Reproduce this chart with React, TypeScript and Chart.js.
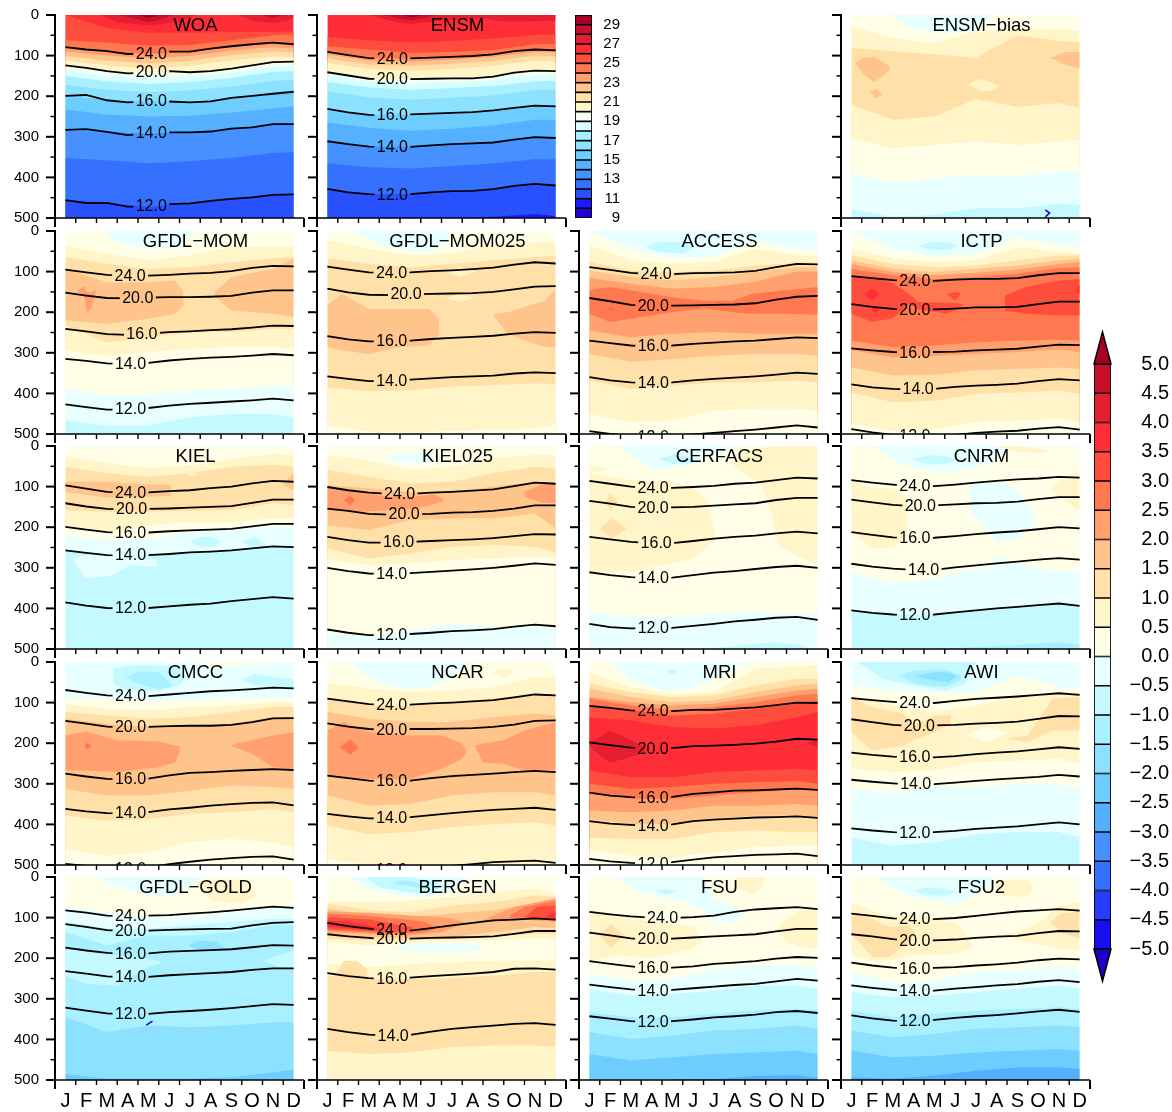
import React, { useEffect, useRef } from "react";
import { Chart, registerables } from "chart.js";

Chart.register(...registerables);

const FONT = "'Liberation Sans', Arial, sans-serif";
const MONTHS = ["J", "F", "M", "A", "M", "J", "J", "A", "S", "O", "N", "D"];
const MONTH_POS = [0.5, 1.5, 2.5, 3.5, 4.5, 5.5, 6.5, 7.5, 8.5, 9.5, 10.5, 11.5];
const KNOTS = [0.5, 2.5, 4.5, 6.5, 8.5, 10.5, 11.5];
const LEVELS = ["24.0", "20.0", "16.0", "14.0", "12.0"];
const TITLE_POS = 6.77;

const TEMP_COLORS: Record<number, string> = {
  9: "#2000d0", 10: "#1a1aff", 11: "#2850ff", 12: "#3670ff", 13: "#4690ff", 14: "#55b0ff", 15: "#6ecdff",
  16: "#8ce1ff", 17: "#a8f0ff", 18: "#d8ffff", 19: "#f4fff2", 20: "#fff5c8", 21: "#ffe0a8", 22: "#ffc38c",
  23: "#ffa06e", 24: "#ff7850", 25: "#ff4d3d", 26: "#ff2d37", 27: "#e61e32", 28: "#c8102e", 29: "#a80025",
};
const BIAS_LEVELS = [-5.5, -5, -4.5, -4, -3.5, -3, -2.5, -2, -1.5, -1, -0.5, 0, 0.5, 1, 1.5, 2, 2.5, 3, 3.5, 4, 4.5, 5];
const BIAS_HEX = ["#2000c8", "#190fee", "#233cff", "#3670ff", "#4690ff", "#55afff", "#6ecdff", "#8ce1ff", "#a8f0ff", "#c4faff", "#e8ffff",
  "#ffffe8", "#fff5c8", "#ffe0a8", "#ffc38c", "#ffa06e", "#ff7850", "#ff4d3d", "#ff2d37", "#e61e32", "#c8102e", "#a80025"];
const TEMP_BAR = [9, 10, 11, 12, 13, 14, 15, 16, 17, 18, 19, 20, 21, 22, 23, 24, 25, 26, 27, 28, 29];
const TEMP_TICKS = [9, 11, 13, 15, 17, 19, 21, 23, 25, 27, 29];
const BIAS_TICKS = [-5, -4.5, -4, -3.5, -3, -2.5, -2, -1.5, -1, -0.5, 0, 0.5, 1, 1.5, 2, 2.5, 3, 3.5, 4, 4.5, 5];

const WOA_LINES = [
  [79, 85, 89, 96, 96, 90, 90, 83, 77, 72, 68, 72],
  [124, 130, 138, 144, 142, 138, 141, 138, 132, 124, 116, 115],
  [199, 197, 210, 215, 213, 213, 215, 213, 204, 199, 194, 189],
  [283, 281, 288, 296, 292, 289, 289, 287, 280, 277, 269, 269],
  [456, 463, 463, 472, 472, 466, 464, 458, 453, 449, 443, 442],
];
const WOA_LABELX = [4.64, 4.64, 4.64, 4.64, 4.64];
const WOA_BANDS = [
  [26, 0, 0, 0, 0, 0, 0, 0],
  [25, 0, 32, 44, 44, 42, 42, 40],
  [24, 62, 68, 76, 74, 62, 50, 48],
  [23, 79, 89, 96, 90, 77, 68, 72],
  [22, 90, 100, 107, 101, 88, 79, 82],
  [21, 101, 112, 119, 112, 99, 90, 92],
  [20, 112, 124, 132, 125, 112, 102, 104],
  [19, 124, 138, 142, 141, 132, 116, 115],
  [18, 136, 150, 155, 152, 143, 128, 125],
  [17, 150, 163, 170, 165, 155, 140, 138],
  [16, 172, 184, 190, 186, 176, 162, 160],
  [15, 199, 210, 213, 215, 204, 194, 189],
  [14, 233, 245, 250, 248, 240, 230, 225],
  [13, 283, 288, 292, 289, 280, 269, 269],
  [12, 352, 358, 365, 360, 352, 340, 338],
  [11, 456, 463, 472, 464, 453, 443, 442],
];
const WOA_BLOBS: any[] = [
  [27, [[2.2, 0, 0], [3, 0, 18], [4.5, 0, 26], [6, 0, 16], [6.8, 0, 0]]],
  [27, [[8.8, 0, 0], [9.5, 0, 14], [10.5, 0, 20], [11.2, 0, 14], [11.5, 0, 5]]],
  [28, [[3.1, 0, 0], [4, 0, 12], [4.5, 0, 18], [5, 0, 12], [5.7, 0, 0]]],
  [28, [[10, 0, 0], [10.5, 0, 8], [11, 0, 0]]],
  [29, [[4, 0, 0], [4.5, 0, 8], [5, 0, 0]]],
];

const ENSM_LINES = [
  [91, 99, 106, 108, 107, 105, 103, 101, 97, 89, 85, 87],
  [141, 149, 157, 158, 158, 157, 156, 156, 152, 142, 137, 138],
  [231, 240, 246, 247, 245, 243, 241, 239, 235, 229, 223, 225],
  [311, 318, 324, 325, 325, 321, 318, 316, 314, 307, 301, 303],
  [428, 437, 441, 443, 441, 437, 434, 433, 429, 421, 416, 420],
];
const ENSM_LABELX = [3.63, 3.63, 3.63, 3.63, 3.63];
const ENSM_BANDS = [
  [26, 0, 0, 0, 0, 0, 0, 0],
  [25, 54, 62, 67, 64, 58, 49, 48],
  [24, 77, 85, 93, 91, 86, 72, 70],
  [23, 91, 106, 107, 103, 97, 85, 87],
  [22, 97, 112, 115, 110, 103, 91, 92],
  [21, 107, 122, 125, 120, 113, 100, 102],
  [20, 118, 133, 138, 133, 125, 113, 115],
  [19, 141, 157, 158, 156, 152, 137, 138],
  [18, 148, 163, 168, 165, 160, 148, 147],
  [17, 165, 178, 184, 180, 175, 163, 162],
  [16, 188, 203, 208, 204, 198, 185, 185],
  [15, 231, 246, 245, 241, 235, 223, 225],
  [14, 265, 278, 285, 280, 272, 258, 258],
  [13, 311, 324, 325, 318, 314, 301, 303],
  [12, 365, 375, 378, 372, 366, 355, 355],
  [11, 428, 441, 441, 434, 429, 416, 420],
  [10, 500, 500, 500, 500, 497, 490, 495],
];
const ENSM_BLOBS: any[] = [
  [27, [[2.5, 0, 0], [3.5, 0, 14], [4.5, 0, 22], [6, 0, 14], [8, 0, 8], [9, 0, 16], [10, 0, 16], [11.5, 0, 14]]],
  [28, [[3.2, 0, 0], [4.5, 0, 14], [5.8, 0, 0]]],
  [29, [[4.1, 0, 0], [4.6, 0, 6], [5.1, 0, 0]]],
];

const BIAS_BANDS = [
  [0, 0, 0, 0, 0, 0, 0, 0],
  [0.5, 27, 56, 70, 40, 35, 34, 40],
  [1, 81, 89, 97, 105, 50, 64, 67],
  [0.5, 221, 258, 250, 207, 226, 217, 229],
  [0, 303, 328, 320, 311, 320, 311, 307],
  [-0.5, 390, 413, 402, 394, 398, 385, 385],
  [-1, 479, 497, 492, 476, 476, 464, 468],
];
const BIAS_BLOBS: any[] = [
  [-0.5, [[2.4, 0, 0], [3.5, 0, 35], [5, 0, 44], [6.3, 0, 40], [7, 0, 15], [7.4, 0, 0]]],
  [1.5, [[0.66, 118, 118], [1.1, 105, 146], [1.6, 103, 166], [2.2, 122, 143], [2.4, 132, 132]]],
  [1.5, [[10.1, 105, 105], [10.8, 91, 122], [11.5, 91, 132]]],
  [1.5, [[1.38, 190, 190], [1.7, 182, 205], [2, 195, 195]]],
  [0.5, [[6.1, 172, 172], [6.7, 157, 186], [7.2, 165, 188], [7.64, 175, 175]]],
];
const BIAS_MARKS = [[[9.85, 480], [10.05, 488], [9.85, 497]]];

const GFDLMOM_LINES = [
  [95, 102, 108, 110, 110, 108, 105, 103, 99, 91, 86, 87],
  [152, 159, 165, 166, 164, 163, 163, 162, 160, 152, 146, 146],
  [241, 247, 254, 256, 253, 249, 247, 244, 242, 238, 233, 234],
  [315, 320, 326, 328, 325, 319, 315, 312, 310, 307, 303, 306],
  [427, 434, 440, 440, 436, 430, 426, 423, 420, 417, 413, 417],
];
const GFDLMOM_LABELX = [3.62, 3.99, 4.19, 3.64, 3.64];
const GFDLMOM_BANDS = [
  [0, 0, 0, 0, 0, 0, 0, 0],
  [0.5, 35, 56, 72, 60, 40, 38, 38],
  [1, 64, 81, 93, 89, 77, 68, 64],
  [0.5, 233, 274, 262, 249, 249, 241, 241],
  [0, 294, 307, 298, 290, 286, 286, 290],
  [-0.5, 389, 405, 401, 393, 389, 381, 385],
  [-1, 467, 479, 479, 459, 451, 451, 459],
];
const GFDLMOM_BLOBS: any[] = [
  [-0.5, [[2.4, 0, 0], [3, 0, 28], [4.5, 0, 45], [6, 0, 40], [6.7, 0, 0]]],
  [1.5, [[0.5, 93, 220], [2.5, 126, 229], [4.5, 126, 216], [5.8, 122, 204], [6.2, 150, 183]]],
  [1.5, [[7.7, 150, 160], [8.5, 113, 196], [10.5, 93, 204], [11.5, 68, 212]]],
  [2, [[1.05, 148, 148], [1.4, 136, 158], [1.55, 150, 200], [1.75, 150, 190], [2, 145, 145]]],
];

const MOM025_LINES = [
  [88, 95, 102, 103, 102, 99, 97, 94, 90, 83, 77, 80],
  [142, 151, 157, 158, 156, 155, 154, 153, 150, 144, 137, 136],
  [259, 267, 272, 272, 270, 266, 263, 261, 258, 253, 249, 251],
  [358, 364, 370, 370, 366, 363, 360, 358, 356, 351, 348, 350],
];
const MOM025_LABELX = [3.59, 4.29, 3.6, 3.6];
const MOM025_BANDS = [
  [0, 0, 0, 0, 0, 0, 0, 0],
  [0.5, 23, 44, 60, 56, 31, 27, 27],
  [1, 68, 81, 89, 81, 72, 64, 60],
  [0.5, 385, 395, 392, 383, 380, 375, 378],
  [0, 479, 494, 496, 492, 489, 486, 478],
];
const MOM025_BLOBS: any[] = [
  [-0.5, [[1.8, 0, 0], [3, 0, 32], [4.5, 0, 50], [5.5, 0, 50], [6.2, 0, 30], [6.5, 0, 0]]],
  [0.5, [[6.2, 100, 100], [6.9, 89, 113], [7.65, 100, 100]]],
  [0.5, [[6.2, 165, 165], [6.9, 155, 175], [7.6, 165, 165]]],
  [1.5, [[0.5, 183, 286], [1.2, 155, 294], [2.5, 192, 303], [4, 192, 286], [5.4, 192, 282], [5.9, 216, 253]]],
  [1.5, [[8.5, 204, 208], [9.2, 200, 253], [10, 187, 270], [11, 171, 286], [11.5, 142, 286]]],
];

const KIEL_LINES = [
  [97, 105, 113, 115, 114, 111, 109, 104, 100, 92, 86, 88],
  [141, 149, 155, 156, 155, 154, 152, 150, 148, 140, 132, 132],
  [199, 206, 212, 214, 213, 210, 208, 206, 204, 198, 192, 192],
  [257, 263, 269, 270, 269, 266, 262, 260, 257, 252, 247, 249],
  [385, 393, 399, 400, 399, 395, 391, 388, 382, 377, 372, 376],
];
const KIEL_LABELX = [3.64, 3.69, 3.64, 3.64, 3.64];
const KIEL_BANDS = [
  [0, 0, 0, 0, 0, 0, 0, 0],
  [0.5, 25, 42, 55, 48, 32, 20, 22],
  [1, 51, 67, 76, 67, 51, 47, 51],
  [0.5, 158, 162, 162, 160, 158, 141, 146],
  [0, 199, 215, 195, 187, 187, 178, 178],
  [-0.5, 220, 232, 228, 211, 207, 199, 199],
  [-1, 257, 270, 268, 262, 257, 247, 249],
];
const KIEL_BLOBS: any[] = [
  [1.5, [[0.5, 88, 113], [2.5, 88, 127], [4.5, 95, 125], [5.6, 96, 123]]],
  [1.5, [[11, 92, 95], [11.5, 67, 109]]],
  [0.5, [[6.3, 68, 68], [6.6, 65, 75], [6.9, 70, 70]]],
  [-0.5, [[0.9, 277, 285], [1.5, 269, 326], [2.7, 265, 320], [3.6, 273, 294], [4.9, 281, 298]]],
  [-1, [[6.5, 236, 236], [7, 224, 248], [7.6, 224, 248], [8, 236, 236]]],
  [-1, [[9, 236, 236], [9.6, 224, 252], [10.3, 248, 248]]],
];

const KIEL025_LINES = [
  [101, 109, 115, 118, 118, 115, 113, 110, 107, 99, 90, 93],
  [154, 160, 167, 169, 168, 167, 164, 163, 160, 154, 146, 146],
  [224, 232, 238, 238, 236, 234, 232, 230, 227, 222, 217, 218],
  [300, 308, 314, 315, 313, 310, 307, 304, 300, 295, 289, 293],
  [452, 460, 466, 466, 463, 460, 456, 454, 451, 445, 440, 444],
];
const KIEL025_LABELX = [3.98, 4.2, 3.93, 3.6, 3.6];
const KIEL025_BANDS = [
  [0, 0, 0, 0, 0, 0, 0, 0],
  [0.5, 22, 35, 59, 51, 30, 22, 22],
  [1, 59, 76, 92, 88, 67, 51, 55],
  [1.5, 96, 104, 113, 113, 100, 88, 90],
  [1, 195, 207, 183, 178, 178, 166, 203],
  [0.5, 252, 277, 265, 248, 244, 248, 261],
  [0, 281, 293, 289, 281, 277, 273, 277],
  [-0.5, 462, 470, 454, 437, 446, 446, 450],
];
const KIEL025_BLOBS: any[] = [
  [-0.5, [[3.3, 30, 30], [4, 18, 40], [5.2, 18, 42], [6, 30, 30]]],
  [2, [[0.5, 100, 158], [2, 113, 162], [3.5, 125, 158], [4.7, 125, 154], [5.6, 119, 144], [6.1, 130, 135]]],
  [2, [[10, 113, 125], [10.8, 95, 139], [11.5, 92, 141]]],
  [2.5, [[1.3, 133, 133], [1.6, 123, 147], [1.85, 133, 133]]],
];

const ACCESS_LINES = [
  [89, 96, 103, 106, 106, 104, 103, 102, 98, 89, 81, 82],
  [165, 173, 182, 185, 184, 183, 182, 181, 178, 169, 162, 160],
  [270, 276, 282, 284, 282, 278, 275, 272, 270, 266, 262, 264],
  [360, 368, 373, 374, 373, 368, 364, 361, 358, 354, 349, 352],
  [493, 500, 505, 507, 505, 501, 497, 493, 489, 484, 479, 484],
];
const ACCESS_LABELX = [3.72, 3.58, 3.58, 3.58, 3.58];
const ACCESS_BANDS = [
  [-0.5, 0, 0, 0, 0, 0, 0, 0],
  [0, 0, 45, 68, 62, 25, 45, 45],
  [0.5, 35, 72, 80, 77, 43, 60, 60],
  [1, 76, 97, 101, 97, 85, 78, 78],
  [1.5, 97, 113, 122, 113, 101, 89, 89],
  [2, 116, 130, 142, 138, 125, 100, 100],
  [1.5, 245, 262, 253, 249, 253, 253, 253],
  [1, 303, 322, 315, 307, 303, 303, 307],
  [0.5, 368, 389, 381, 373, 373, 368, 373],
  [0, 451, 471, 467, 442, 438, 438, 442],
];
const ACCESS_BLOBS: any[] = [
  [-1, [[3.2, 40, 40], [3.8, 27, 52], [5, 27, 56], [5.6, 40, 40]]],
  [2.5, [[0.5, 146, 204], [1.5, 138, 224], [3, 150, 212], [4.5, 163, 200], [6, 172, 190], [7.4, 172, 200], [8.3, 155, 204], [10, 146, 204], [11.5, 138, 206]]],
  [3, [[1.4, 192, 192], [1.5, 190, 194], [1.7, 192, 192]]],
];

const ICTP_LINES = [
  [111, 116, 121, 123, 123, 120, 118, 118, 116, 109, 104, 104],
  [180, 187, 192, 195, 193, 191, 188, 188, 187, 180, 174, 174],
  [289, 294, 298, 300, 298, 297, 294, 292, 290, 285, 280, 281],
  [378, 385, 389, 391, 389, 384, 381, 379, 376, 370, 365, 368],
  [488, 496, 502, 506, 505, 502, 497, 494, 492, 487, 483, 489],
];
const ICTP_LABELX = [3.56, 3.56, 3.56, 3.72, 3.56];
const ICTP_BANDS = [
  [-0.5, 0, 0, 0, 0, 0, 0, 0],
  [0, 0, 44, 64, 56, 15, 36, 40],
  [0.5, 44, 68, 76, 72, 40, 52, 56],
  [1, 60, 81, 89, 85, 72, 60, 60],
  [1.5, 72, 93, 101, 93, 85, 72, 68],
  [2, 81, 101, 109, 103, 95, 81, 77],
  [2.5, 93, 109, 119, 113, 105, 91, 89],
  [2, 270, 286, 282, 274, 270, 267, 270],
  [1.5, 294, 311, 308, 303, 298, 292, 298],
  [1, 336, 356, 354, 343, 340, 336, 340],
  [0.5, 398, 422, 418, 401, 398, 393, 401],
  [0, 475, 492, 488, 471, 467, 463, 471],
];
const ICTP_BLOBS: any[] = [
  [-1, [[3.7, 37, 37], [4.3, 27, 47], [5.2, 27, 47], [5.6, 37, 37]]],
  [3, [[0.5, 113, 204], [1.5, 113, 224], [2.5, 128, 215], [3.3, 155, 179], [3.7, 175, 192], [5.1, 177, 204], [5.9, 179, 183]]],
  [3, [[7.9, 159, 196], [8.9, 138, 204], [10.5, 122, 208], [11.5, 118, 208]]],
  [3, [[5.1, 155, 155], [5.5, 150, 171], [5.8, 152, 152]]],
  [3.5, [[1.1, 155, 155], [1.5, 142, 171], [1.85, 155, 155]]],
  [3.5, [[1.45, 192, 192], [1.65, 186, 204], [1.85, 192, 192]]],
  [3.5, [[11.3, 146, 146], [11.5, 134, 155]]],
];

const CERFACS_LINES = [
  [86, 93, 100, 104, 103, 101, 98, 93, 90, 84, 78, 80],
  [135, 142, 150, 152, 151, 150, 147, 144, 141, 133, 128, 128],
  [224, 230, 236, 239, 239, 234, 228, 224, 221, 215, 211, 215],
  [311, 318, 323, 326, 324, 318, 312, 308, 303, 298, 295, 300],
  [438, 446, 449, 449, 448, 443, 438, 432, 428, 423, 421, 428],
];
const CERFACS_LABELX = [3.57, 3.57, 3.72, 3.58, 3.58];
const CERFACS_BANDS = [
  [0, 0, 0, 0, 0, 0, 0, 0],
  [-0.5, 409, 421, 421, 413, 409, 413, 413],
];
const CERFACS_BLOBS: any[] = [
  [-0.5, [[2, 0, 5], [3.5, 0, 55], [5, 0, 52], [6.5, 0, 25], [7.5, 0, 0]]],
  [-1, [[3.8, 32, 32], [4.5, 22, 43], [5.3, 25, 43], [5.6, 32, 32]]],
  [0.5, [[7.3, 40, 40], [8, 14, 70], [8.8, 5, 95], [9.3, 0, 170], [9.6, 0, 245], [10.5, 0, 270], [11.5, 0, 294]]],
  [0.5, [[0.5, 67, 310], [2.5, 84, 310], [4.5, 88, 289], [5.5, 104, 277], [6.2, 137, 248], [6.5, 203, 236]]],
  [0.5, [[0.5, 47, 67], [1.5, 58, 58]]],
  [1, [[1.3, 137, 137], [1.5, 117, 160], [1.85, 137, 137]]],
  [1, [[1, 203, 203], [1.6, 178, 228], [2.3, 203, 203]]],
  [-1, [[6, 500, 500], [9.5, 483, 500], [11, 493, 500]]],
];

const CNRM_LINES = [
  [84, 90, 95, 99, 99, 95, 90, 86, 82, 80, 76, 78],
  [132, 139, 145, 148, 146, 144, 141, 140, 137, 131, 126, 126],
  [212, 219, 225, 227, 226, 222, 217, 213, 210, 205, 200, 203],
  [290, 297, 302, 305, 305, 299, 294, 289, 285, 280, 276, 280],
  [405, 411, 415, 417, 415, 410, 405, 400, 396, 392, 388, 394],
];
const CNRM_LABELX = [3.56, 3.82, 3.56, 3.98, 3.56];
const CNRM_BANDS = [
  [0, 0, 0, 0, 0, 0, 0, 0],
  [-0.5, 310, 339, 326, 302, 289, 310, 310],
  [-1, 405, 415, 415, 405, 396, 388, 394],
  [-1.5, 500, 500, 500, 495, 490, 483, 490],
];
const CNRM_BLOBS: any[] = [
  [-0.5, [[1.6, 0, 0], [3, 0, 47], [4.5, 0, 62], [5.5, 0, 65], [6.5, 0, 55], [7.5, 0, 25], [8.5, 0, 0]]],
  [-0.5, [[6.2, 96, 162], [6.9, 88, 195], [7.5, 88, 236], [8, 92, 236], [8.6, 113, 228], [9.4, 178, 182]]],
  [-1, [[3.4, 33, 33], [4.2, 22, 45], [5, 25, 45], [5.6, 33, 33]]],
  [0.5, [[7.7, 0, 3], [8.6, 0, 15], [9.6, 8, 17], [10.1, 14, 14]]],
  [0.5, [[10.1, 104, 104], [10.7, 80, 133], [11.5, 63, 160]]],
  [0.5, [[0.5, 84, 211], [1.5, 104, 252], [2.5, 104, 252], [3.2, 129, 220]]],
  [-0.5, [[7.2, 281, 281], [7.6, 269, 294], [8, 281, 281]]],
];

const CMCC_LINES = [
  [69, 76, 82, 84, 84, 80, 76, 72, 70, 67, 63, 65],
  [145, 152, 159, 161, 160, 158, 157, 157, 155, 148, 139, 138],
  [275, 282, 288, 289, 287, 279, 273, 271, 268, 266, 264, 266],
  [362, 368, 372, 373, 370, 363, 359, 354, 350, 347, 346, 353],
  [497, 502, 510, 510, 506, 498, 492, 487, 483, 480, 479, 487],
];
const CMCC_LABELX = [3.64, 3.64, 3.64, 3.64, 3.64];
const CMCC_BANDS = [
  [-0.5, 0, 0, 0, 0, 0, 0, 0],
  [0, 86, 90, 95, 95, 86, 90, 90],
  [0.5, 103, 115, 119, 111, 107, 99, 99],
  [1, 123, 132, 140, 136, 123, 111, 111],
  [1.5, 140, 152, 160, 156, 152, 136, 136],
  [1, 313, 329, 329, 317, 304, 308, 313],
  [0.5, 378, 391, 387, 374, 370, 362, 370],
  [0, 461, 477, 469, 444, 436, 444, 456],
];
const CMCC_BLOBS: any[] = [
  [-1, [[2.8, 16, 53], [3.5, 8, 70], [5, 8, 70], [6, 16, 58], [6.3, 37, 37]]],
  [-1.5, [[3.4, 37, 37], [4, 23, 53], [5, 25, 67], [5.6, 53, 62]]],
  [-1, [[9, 43, 43], [9.6, 29, 58], [11.5, 43, 66]]],
  [0, [[7, 0, 0], [7.6, 0, 16], [8, 0, 12], [9, 0, 8], [11.5, 0, 0]]],
  [2, [[0.5, 181, 267], [1.5, 171, 267], [3, 193, 271], [5, 196, 259], [5.8, 206, 247], [6, 206, 222]]],
  [2, [[8.5, 204, 206], [9.5, 193, 226], [10.5, 181, 259], [11.5, 173, 263]]],
  [2.5, [[1.4, 207, 207], [1.55, 199, 215], [1.75, 207, 207]]],
];

const NCAR_LINES = [
  [90, 97, 104, 105, 105, 102, 100, 97, 94, 87, 80, 82],
  [151, 159, 165, 167, 165, 165, 164, 163, 160, 154, 145, 144],
  [280, 286, 292, 294, 292, 286, 281, 278, 275, 271, 268, 271],
  [374, 380, 385, 385, 382, 377, 372, 368, 364, 362, 359, 364],
  [502, 510, 514, 514, 510, 506, 502, 498, 493, 491, 489, 495],
];
const NCAR_LABELX = [3.6, 3.6, 3.6, 3.6, 3.6];
const NCAR_BANDS = [
  [0, 0, 0, 0, 0, 0, 0, 0],
  [0.5, 53, 66, 74, 70, 62, 37, 37],
  [1, 90, 107, 107, 99, 90, 78, 82],
  [1.5, 123, 140, 148, 148, 136, 127, 132],
  [1, 329, 354, 350, 329, 321, 321, 329],
  [0.5, 403, 424, 419, 407, 399, 395, 403],
  [0, 485, 500, 500, 500, 500, 500, 490],
];
const NCAR_BLOBS: any[] = [
  [-0.5, [[1.5, 0, 0], [2.7, 0, 45], [4, 0, 66], [5.5, 0, 62], [6.5, 0, 33], [7.5, 0, 0]]],
  [0.5, [[8.4, 25, 25], [9, 16, 37], [9.6, 25, 25]]],
  [2, [[0.5, 169, 280], [1.3, 148, 284], [2.5, 173, 288], [4.5, 181, 288], [6, 181, 263], [7, 201, 238], [7.2, 222, 222]]],
  [2, [[7.6, 206, 206], [8, 201, 247], [9, 193, 251], [10, 169, 267], [11.5, 148, 267]]],
  [2.5, [[1.1, 210, 210], [1.6, 191, 229], [2, 210, 210]]],
];

const MRI_LINES = [
  [108, 113, 119, 121, 121, 118, 118, 115, 112, 106, 100, 101],
  [198, 205, 211, 214, 212, 207, 206, 204, 201, 196, 189, 191],
  [322, 329, 333, 335, 332, 325, 321, 317, 316, 314, 312, 315],
  [392, 398, 401, 404, 400, 392, 388, 386, 383, 382, 380, 384],
  [485, 491, 495, 497, 493, 487, 481, 478, 475, 474, 472, 478],
];
const MRI_LABELX = [3.57, 3.57, 3.57, 3.57, 3.57];
const MRI_BANDS = [
  [0, 0, 0, 0, 0, 0, 0, 0],
  [0.5, 25, 62, 78, 74, 16, 12, 8],
  [1, 53, 74, 86, 82, 58, 41, 41],
  [1.5, 66, 86, 99, 95, 74, 58, 53],
  [2, 86, 99, 107, 103, 86, 70, 66],
  [2.5, 90, 107, 119, 111, 99, 82, 78],
  [3, 107, 119, 132, 127, 115, 103, 95],
  [3.5, 136, 144, 160, 164, 156, 136, 123],
  [3, 267, 284, 284, 271, 267, 263, 267],
  [2.5, 300, 312, 308, 300, 296, 294, 300],
  [2, 321, 337, 337, 329, 321, 312, 317],
  [1.5, 366, 370, 366, 354, 354, 350, 354],
  [1, 387, 399, 399, 387, 378, 378, 387],
  [0.5, 432, 436, 436, 419, 415, 419, 419],
  [0, 461, 477, 481, 469, 456, 452, 452],
];
const MRI_BLOBS: any[] = [
  [-0.5, [[1.5, 0, 0], [2.5, 0, 45], [4, 0, 70], [5.5, 0, 66], [6.7, 0, 37], [7.5, 0, 12], [8.3, 0, 0]]],
  [-1, [[4.2, 22, 22], [4.5, 18, 30], [4.8, 22, 22]]],
  [4, [[0.5, 199, 206], [1, 185, 230], [1.5, 169, 248], [2.5, 193, 234], [3.2, 210, 222]]],
  [4, [[11, 201, 201], [11.3, 193, 206], [11.5, 189, 210]]],
];

const AWI_LINES = [
  [89, 94, 98, 101, 101, 96, 91, 88, 85, 81, 77, 81],
  [141, 148, 155, 158, 156, 155, 152, 150, 147, 140, 133, 134],
  [223, 229, 233, 235, 235, 232, 227, 223, 220, 215, 210, 214],
  [290, 295, 299, 302, 301, 297, 293, 289, 286, 283, 278, 282],
  [410, 415, 419, 421, 419, 416, 411, 408, 405, 400, 395, 400],
];
const AWI_LABELX = [3.56, 3.77, 3.56, 3.6, 3.56];
const AWI_BANDS = [
  [-0.5, 0, 0, 0, 0, 0, 0, 0],
  [0, 58, 70, 74, 74, 33, 62, 62],
  [0.5, 82, 107, 123, 107, 86, 78, 74],
  [0, 263, 271, 267, 247, 243, 238, 251],
  [-0.5, 313, 321, 308, 308, 300, 300, 313],
  [-1, 432, 452, 444, 424, 419, 419, 432],
];
const AWI_BLOBS: any[] = [
  [-1, [[0.8, 0, 0], [2, 0, 41], [3, 0, 53], [5, 0, 70], [6, 0, 53], [6.5, 0, 0]]],
  [-1.5, [[2.8, 33, 33], [3.5, 21, 53], [5, 18, 62], [5.8, 33, 45]]],
  [-2, [[3.6, 35, 35], [4.4, 25, 45], [5.2, 25, 49], [5.6, 35, 35]]],
  [1, [[0.5, 86, 173], [1.5, 111, 218], [3, 127, 206], [3.5, 156, 193], [4.5, 132, 173], [5.3, 132, 152]]],
  [1, [[8, 189, 189], [9, 181, 197], [10.2, 90, 169], [11.5, 86, 169]]],
  [0, [[6, 181, 181], [7, 160, 197], [8, 173, 177]]],
];

const GOLD_LINES = [
  [82, 88, 95, 96, 95, 94, 90, 87, 83, 78, 73, 76],
  [116, 123, 131, 133, 132, 130, 129, 128, 127, 119, 113, 111],
  [174, 181, 187, 189, 188, 184, 182, 180, 178, 173, 168, 169],
  [232, 238, 245, 248, 246, 242, 239, 237, 234, 229, 225, 225],
  [322, 329, 336, 339, 337, 333, 330, 327, 323, 318, 313, 315],
];
const GOLD_LABELX = [3.64, 3.64, 3.64, 3.64, 3.64];
const GOLD_BANDS = [
  [0, 0, 0, 0, 0, 0, 0, 0],
  [-0.5, 74, 86, 99, 99, 86, 78, 76],
  [-1, 111, 127, 127, 119, 111, 103, 103],
  [-1.5, 136, 169, 144, 144, 136, 119, 119],
  [-2, 345, 382, 366, 370, 366, 358, 358],
  [-2.5, 485, 497, 497, 496, 493, 481, 475],
];
const GOLD_BLOBS: any[] = [
  [-0.5, [[2, 0, 0], [3, 0, 25], [4.5, 0, 45], [5.5, 0, 49], [6.5, 0, 25], [7.2, 0, 0]]],
  [0.5, [[6.8, 12, 12], [7.5, 6, 58], [9, 6, 66], [9.8, 45, 45]]],
  [-2, [[6.4, 169, 169], [7, 156, 181], [7.8, 160, 181], [8.2, 177, 177]]],
  [-1, [[0.5, 181, 243], [1.5, 177, 263], [3, 193, 267], [4.5, 201, 222], [5.2, 210, 210]]],
  [-1, [[10, 206, 206], [11, 189, 226], [11.5, 181, 222]]],
];
const GOLD_MARKS = [[[4.4, 365], [4.7, 355]]];

const BERGEN_LINES = [
  [113, 121, 127, 132, 132, 126, 119, 113, 107, 105, 102, 105],
  [141, 146, 150, 154, 152, 150, 149, 148, 146, 140, 133, 133],
  [237, 244, 249, 251, 248, 244, 241, 238, 234, 226, 225, 228],
  [374, 382, 388, 391, 389, 381, 374, 370, 366, 362, 360, 364],
];
const BERGEN_LABELX = [3.6, 3.6, 3.6, 3.67];
const BERGEN_BANDS = [
  [0, 0, 0, 0, 0, 0, 0, 0],
  [0.5, 58, 62, 58, 49, 37, 29, 41],
  [1, 66, 82, 86, 70, 62, 45, 49],
  [1.5, 78, 93, 99, 90, 82, 66, 62],
  [1, 140, 148, 150, 148, 136, 123, 127],
  [0.5, 152, 156, 156, 152, 144, 140, 140],
  [0, 160, 169, 162, 159, 156, 152, 152],
  [0.5, 214, 222, 214, 210, 206, 206, 206],
  [1, 243, 251, 251, 249, 243, 234, 234],
  [0.5, 428, 436, 432, 419, 415, 415, 419],
];
const BERGEN_BLOBS: any[] = [
  [-0.5, [[1.5, 0, 0], [2.5, 0, 29], [4, 0, 45], [5.5, 0, 49], [6.5, 0, 33], [7.5, 0, 0]]],
  [-1, [[2.4, 0, 5], [3, 0, 25], [4.5, 0, 39], [5.6, 10, 41], [6, 20, 20]]],
  [-1.5, [[3.6, 14, 14], [4.2, 8, 21], [5, 16, 27], [5.4, 26, 26]]],
  [-0.5, [[3.4, 177, 177], [5, 162, 183], [7, 164, 185], [8, 173, 181]]],
  [1, [[0.8, 245, 245], [1.3, 206, 245], [1.9, 206, 245], [2.4, 226, 245]]],
  [2, [[0.5, 85, 136], [2.5, 88, 140], [4.5, 95, 144], [6, 99, 136], [6.5, 103, 126], [7.1, 111, 115]]],
  [2.5, [[0.5, 90, 132], [2.5, 96, 137], [4, 103, 140], [5.2, 111, 136], [5.7, 123, 128]]],
  [3, [[0.5, 99, 129], [2.5, 104, 133], [3.6, 115, 136], [4.6, 123, 132]]],
  [3.5, [[0.5, 107, 123], [1.5, 111, 126], [2.8, 123, 132], [3.2, 128, 128]]],
  [2, [[7.8, 111, 111], [8.5, 95, 111], [9.5, 74, 103], [11.5, 53, 111]]],
  [2.5, [[9.3, 95, 101], [10, 74, 103], [11.5, 58, 107]]],
  [3, [[10, 99, 99], [10.6, 74, 103], [11.5, 70, 104]]],
  [3.5, [[11, 99, 99], [11.5, 86, 103]]],
];

const FSU_LINES = [
  [86, 92, 97, 100, 101, 99, 95, 86, 80, 77, 74, 79],
  [137, 144, 151, 154, 152, 149, 146, 144, 141, 134, 128, 128],
  [207, 214, 220, 225, 223, 220, 214, 211, 207, 201, 197, 199],
  [265, 271, 277, 280, 278, 274, 270, 266, 263, 257, 251, 255],
  [343, 349, 355, 358, 355, 351, 346, 343, 339, 333, 330, 335],
];
const FSU_LABELX = [4.03, 3.57, 3.57, 3.57, 3.57];
const FSU_BANDS = [
  [0, 0, 0, 0, 0, 0, 0, 0],
  [-0.5, 238, 255, 251, 226, 218, 214, 226],
  [-1, 275, 292, 288, 280, 267, 267, 275],
  [-1.5, 333, 345, 345, 337, 329, 325, 329],
  [-2, 382, 399, 391, 378, 374, 366, 374],
  [-2.5, 436, 452, 444, 436, 432, 428, 436],
  [-3, 500, 500, 500, 498, 490, 488, 495],
];
const FSU_BLOBS: any[] = [
  [-0.5, [[1.7, 0, 0], [3, 0, 37], [5, 0, 60], [6, 0, 82], [6.5, 53, 107], [7.5, 74, 111], [8, 86, 90]]],
  [-1, [[3.7, 35, 35], [4.2, 29, 44], [4.8, 35, 35]]],
  [0.5, [[7.5, 0, 25], [8.4, 0, 42], [8.9, 0, 25]]],
  [0.5, [[0.5, 78, 206], [2, 95, 193], [3.5, 111, 200], [5.5, 123, 177], [5.9, 152, 160]]],
  [0.5, [[9.5, 128, 128], [10, 103, 160], [10.7, 82, 173], [11.5, 78, 177]]],
  [1, [[1, 144, 144], [1.5, 115, 175], [2.2, 144, 144]]],
];

const FSU2_LINES = [
  [90, 96, 102, 104, 104, 101, 96, 90, 85, 82, 79, 83],
  [141, 146, 153, 157, 156, 154, 150, 147, 145, 138, 133, 134],
  [211, 218, 223, 226, 224, 222, 218, 215, 211, 205, 201, 203],
  [267, 273, 278, 281, 280, 275, 271, 267, 264, 258, 254, 259],
  [341, 348, 354, 355, 352, 347, 343, 340, 336, 331, 327, 332],
];
const FSU2_LABELX = [3.56, 3.56, 3.56, 3.56, 3.56];
const FSU2_BANDS = [
  [0, 0, 0, 0, 0, 0, 0, 0],
  [-0.5, 234, 263, 255, 234, 230, 218, 230],
  [-1, 284, 296, 292, 284, 275, 267, 275],
  [-1.5, 329, 345, 337, 329, 325, 321, 325],
  [-2, 378, 395, 387, 374, 370, 366, 370],
  [-2.5, 428, 444, 440, 432, 428, 424, 428],
  [-3, 493, 497, 489, 477, 469, 469, 473],
];
const FSU2_BLOBS: any[] = [
  [-0.5, [[1.7, 0, 0], [3, 0, 41], [5, 0, 66], [6, 0, 58], [7, 0, 29], [7.6, 0, 0]]],
  [-1, [[3.5, 35, 35], [4.1, 25, 45], [5, 29, 47], [5.6, 37, 37]]],
  [0.5, [[7.4, 21, 21], [7.8, 8, 47], [9, 6, 49], [9.3, 29, 29]]],
  [0.5, [[0.5, 62, 193], [2, 92, 210], [3.5, 95, 193], [5.5, 111, 189], [6, 140, 181], [6.3, 169, 177]]],
  [0.5, [[7.7, 136, 136], [8.5, 140, 156], [9.8, 103, 169], [10.5, 70, 177], [11.5, 62, 181]]],
  [1, [[0.5, 90, 140], [1.5, 103, 197], [2.3, 123, 197], [3.3, 119, 160], [3.6, 136, 136]]],
  [1, [[10.1, 111, 111], [10.6, 90, 136], [11.5, 86, 152]]],
];

const COL_X = [55, 317, 579, 841];
const ROW_Y = [15, 231, 446, 662, 877];
const PLOT_W = 249;
const PLOT_H = 203;

const PANELS: any[] = [
  { title: "WOA", col: 0, row: 0, lines: WOA_LINES, labelX: WOA_LABELX, bands: WOA_BANDS, blobs: WOA_BLOBS, temp: true },
  { title: "ENSM", col: 1, row: 0, lines: ENSM_LINES, labelX: ENSM_LABELX, bands: ENSM_BANDS, blobs: ENSM_BLOBS, temp: true },
  { title: "ENSM\u2212bias", col: 3, row: 0, lines: [], labelX: [], bands: BIAS_BANDS, blobs: BIAS_BLOBS, marks: BIAS_MARKS },
  { title: "GFDL\u2212MOM", col: 0, row: 1, lines: GFDLMOM_LINES, labelX: GFDLMOM_LABELX, bands: GFDLMOM_BANDS, blobs: GFDLMOM_BLOBS },
  { title: "GFDL\u2212MOM025", col: 1, row: 1, lines: MOM025_LINES, labelX: MOM025_LABELX, bands: MOM025_BANDS, blobs: MOM025_BLOBS },
  { title: "ACCESS", col: 2, row: 1, lines: ACCESS_LINES, labelX: ACCESS_LABELX, bands: ACCESS_BANDS, blobs: ACCESS_BLOBS },
  { title: "ICTP", col: 3, row: 1, lines: ICTP_LINES, labelX: ICTP_LABELX, bands: ICTP_BANDS, blobs: ICTP_BLOBS },
  { title: "KIEL", col: 0, row: 2, lines: KIEL_LINES, labelX: KIEL_LABELX, bands: KIEL_BANDS, blobs: KIEL_BLOBS },
  { title: "KIEL025", col: 1, row: 2, lines: KIEL025_LINES, labelX: KIEL025_LABELX, bands: KIEL025_BANDS, blobs: KIEL025_BLOBS },
  { title: "CERFACS", col: 2, row: 2, lines: CERFACS_LINES, labelX: CERFACS_LABELX, bands: CERFACS_BANDS, blobs: CERFACS_BLOBS },
  { title: "CNRM", col: 3, row: 2, lines: CNRM_LINES, labelX: CNRM_LABELX, bands: CNRM_BANDS, blobs: CNRM_BLOBS },
  { title: "CMCC", col: 0, row: 3, lines: CMCC_LINES, labelX: CMCC_LABELX, bands: CMCC_BANDS, blobs: CMCC_BLOBS },
  { title: "NCAR", col: 1, row: 3, lines: NCAR_LINES, labelX: NCAR_LABELX, bands: NCAR_BANDS, blobs: NCAR_BLOBS },
  { title: "MRI", col: 2, row: 3, lines: MRI_LINES, labelX: MRI_LABELX, bands: MRI_BANDS, blobs: MRI_BLOBS },
  { title: "AWI", col: 3, row: 3, lines: AWI_LINES, labelX: AWI_LABELX, bands: AWI_BANDS, blobs: AWI_BLOBS },
  { title: "GFDL\u2212GOLD", col: 0, row: 4, lines: GOLD_LINES, labelX: GOLD_LABELX, bands: GOLD_BANDS, blobs: GOLD_BLOBS, marks: GOLD_MARKS },
  { title: "BERGEN", col: 1, row: 4, lines: BERGEN_LINES, labelX: BERGEN_LABELX, bands: BERGEN_BANDS, blobs: BERGEN_BLOBS },
  { title: "FSU", col: 2, row: 4, lines: FSU_LINES, labelX: FSU_LABELX, bands: FSU_BANDS, blobs: FSU_BLOBS },
  { title: "FSU2", col: 3, row: 4, lines: FSU2_LINES, labelX: FSU2_LABELX, bands: FSU2_BANDS, blobs: FSU2_BLOBS },
];

const biasColor = (lev: number) => BIAS_HEX[BIAS_LEVELS.indexOf(lev)];

function lineYAt(values: number[], x: number) {
  const t = Math.min(10.999, Math.max(0, x - 0.5));
  const i = Math.floor(t);
  return values[i] + (values[i + 1] - values[i]) * (t - i);
}

function resetMargins(s: any) {
  s.paddingTop = 0;
  s.paddingBottom = 0;
  s.paddingLeft = 0;
  s.paddingRight = 0;
  s._margins = { left: 0, right: 0, top: 0, bottom: 0 };
}

const panelPlugin = {
  id: "panelPlugin",
  beforeDatasetDraw(chart: any, args: any) {
    const ds = chart.data.datasets[args.index];
    if (ds.gapAt === undefined) return;
    const { ctx, chartArea: a, scales } = chart;
    const px = scales.x.getPixelForValue(ds.gapAt);
    ctx.save();
    ctx.beginPath();
    ctx.rect(a.left, a.top - 2, px - 18 - a.left, a.height + 4);
    ctx.rect(px + 18, a.top - 2, a.right - px - 18, a.height + 4);
    ctx.clip();
  },
  afterDatasetDraw(chart: any, args: any) {
    if (chart.data.datasets[args.index].gapAt !== undefined) chart.ctx.restore();
  },
  afterDatasetsDraw(chart: any, _a: any, opts: any) {
    const { ctx, chartArea: a, scales } = chart;
    ctx.save();
    ctx.beginPath();
    ctx.rect(a.left, a.top, a.width, a.height);
    ctx.clip();
    ctx.fillStyle = "#000";
    ctx.textAlign = "center";
    ctx.textBaseline = "middle";
    ctx.font = `16px ${FONT}`;
    opts.lines.forEach((values: number[], i: number) => {
      const x = opts.labelX[i];
      ctx.fillText(LEVELS[i], scales.x.getPixelForValue(x), scales.y.getPixelForValue(lineYAt(values, x)) + 0.5);
    });
    ctx.restore();
    ctx.save();
    ctx.fillStyle = "#000";
    ctx.textAlign = "center";
    ctx.textBaseline = "middle";
    ctx.font = `18.5px ${FONT}`;
    ctx.fillText(opts.title, scales.x.getPixelForValue(TITLE_POS), a.top + 11);
    ctx.restore();
  },
  afterDraw(chart: any) {
    const { ctx, chartArea: a, scales } = chart;
    ctx.save();
    ctx.strokeStyle = "#000";
    ctx.lineWidth = 2;
    ctx.beginPath();
    ctx.moveTo(a.left, a.top - 1);
    ctx.lineTo(a.left, a.bottom);
    ctx.stroke();
    for (let v = 0; v <= 500; v += 50) {
      const py = scales.y.getPixelForValue(v);
      const major = v % 100 === 0;
      ctx.lineWidth = major ? 2 : 1.5;
      ctx.beginPath();
      ctx.moveTo(a.left, py);
      ctx.lineTo(a.left - (major ? 9 : 4.5), py);
      ctx.stroke();
    }
    ctx.lineWidth = 1.6;
    ctx.beginPath();
    ctx.moveTo(a.left - 1, a.bottom);
    ctx.lineTo(a.right, a.bottom);
    ctx.stroke();
    for (let m = 0; m <= 12; m++) {
      const px = scales.x.getPixelForValue(m);
      ctx.lineWidth = m === 0 || m === 12 ? 2 : 1.4;
      ctx.beginPath();
      ctx.moveTo(px, a.bottom);
      ctx.lineTo(px, a.bottom + (m === 0 || m === 12 ? 9 : 5));
      ctx.stroke();
    }
    ctx.restore();
  },
};

function buildDatasets(p: any) {
  const color = (lev: number) => (p.temp ? TEMP_COLORS[lev] : biasColor(lev));
  const out: any[] = [];
  const base = { type: "line", pointRadius: 0, borderWidth: 0, tension: 0 };
  p.bands.forEach((b: number[]) => {
    out.push({
      ...base,
      data: KNOTS.map((x, i) => ({ x, y: b[i + 1] })),
      backgroundColor: color(b[0]),
      fill: { value: 500 },
    });
  });
  p.blobs.forEach(([lev, pts]: any) => {
    out.push({
      ...base,
      data: pts.map((q: number[]) => ({ x: q[0], y: q[1] })),
      backgroundColor: color(lev),
      fill: "+1",
    });
    out.push({ ...base, data: pts.map((q: number[]) => ({ x: q[0], y: q[2] })), fill: false });
  });
  (p.marks || []).forEach((m: number[][]) => {
    out.push({ ...base, data: m.map(([x, y]) => ({ x, y })), borderColor: "#2000d8", borderWidth: 1.6, fill: false });
  });
  p.lines.forEach((values: number[], i: number) => {
    out.push({
      ...base,
      data: values.map((y, j) => ({ x: MONTH_POS[j], y })),
      borderColor: "#000",
      borderWidth: 1.8,
      fill: false,
      gapAt: p.labelX[i],
    });
  });
  out.forEach((d, i) => (d.order = -i));
  return out;
}

function makePanel(canvas: HTMLCanvasElement, p: any, L: number, T: number, R: number, B: number) {
  return new Chart(canvas, {
    type: "line",
    data: { datasets: buildDatasets(p) },
    plugins: [panelPlugin],
    options: {
      responsive: false,
      animation: false,
      devicePixelRatio: 1,
      layout: { autoPadding: false, padding: { top: T, right: R, left: 0, bottom: 0 } },
      plugins: {
        legend: { display: false },
        tooltip: { enabled: false },
        panelPlugin: { lines: p.lines, labelX: p.labelX, title: p.title },
      },
      scales: {
        x: {
          type: "linear",
          min: 0,
          max: 12,
          afterBuildTicks: (s: any) => {
            s.ticks = MONTH_POS.map((value) => ({ value }));
          },
          afterFit: (s: any) => {
            s.height = B;
            resetMargins(s);
          },
          grid: { display: false, drawTicks: false },
          border: { display: false },
          ticks: {
            display: p.row === 4,
            autoSkip: false,
            maxRotation: 0,
            minRotation: 0,
            padding: 9,
            color: "#000",
            font: { family: FONT, size: 20 },
            callback: (_v: any, i: number) => MONTHS[i],
          },
        },
        y: {
          type: "linear",
          reverse: true,
          min: 0,
          max: 500,
          afterFit: (s: any) => {
            s.width = L;
            resetMargins(s);
          },
          grid: { display: false, drawTicks: false },
          border: { display: false },
          ticks: {
            display: p.col === 0,
            stepSize: 100,
            padding: 16,
            color: "#000",
            font: { family: FONT, size: 15 },
          },
        },
      },
    } as any,
  });
}

const triPlugin = {
  id: "triPlugin",
  afterDraw(chart: any, _a: any, o: any) {
    const { ctx, chartArea: a, scales } = chart;
    const mid = (a.left + a.right) / 2;
    const tri = (py: number, tip: number, c: string) => {
      ctx.save();
      ctx.fillStyle = c;
      ctx.strokeStyle = "#000";
      ctx.lineWidth = 1.5;
      ctx.beginPath();
      ctx.moveTo(a.left, py);
      ctx.lineTo(mid, tip);
      ctx.lineTo(a.right, py);
      ctx.closePath();
      ctx.fill();
      ctx.stroke();
      ctx.restore();
    };
    if (o.show) {
      const top = scales.y.getPixelForValue(5);
      const bot = scales.y.getPixelForValue(-5);
      tri(top, top - 32, biasColor(5));
      tri(bot, bot + 32, biasColor(-5.5));
    }
  },
};

function makeBar(canvas: HTMLCanvasElement, opts: any) {
  const { levels, step, colorOf, ticksAt, fmt, size, T, B, W, pad, min, max, show } = opts;
  return new Chart(canvas, {
    type: "bar",
    data: {
      labels: ["bar"],
      datasets: levels.map((l: number) => ({
        data: [[l, l + step]],
        backgroundColor: colorOf(l),
        borderColor: "#000",
        borderWidth: 1.2,
        borderSkipped: false,
        grouped: false,
        barPercentage: 1,
        categoryPercentage: 1,
      })),
    },
    plugins: [triPlugin],
    options: {
      responsive: false,
      animation: false,
      devicePixelRatio: 1,
      layout: { autoPadding: false, padding: { top: T, bottom: B, left: 1, right: 0 } },
      plugins: { legend: { display: false }, tooltip: { enabled: false }, triPlugin: { show } },
      scales: {
        x: { display: false },
        y: {
          position: "right",
          min,
          max,
          afterBuildTicks: (s: any) => {
            s.ticks = ticksAt.map((value: number) => ({ value }));
          },
          afterFit: (s: any) => {
            s.width = W;
            resetMargins(s);
          },
          grid: { display: false, drawTicks: false },
          border: { display: false },
          ticks: {
            padding: pad,
            autoSkip: false,
            crossAlign: "far",
            color: "#000",
            font: { family: FONT, size },
            callback: fmt,
          },
        },
      },
    } as any,
  });
}

export default function App() {
  const panelRefs = useRef<(HTMLCanvasElement | null)[]>([]);
  const tempRef = useRef<HTMLCanvasElement | null>(null);
  const biasRef = useRef<HTMLCanvasElement | null>(null);
  const L = 50;
  const T = 12;
  const R = 6;
  const geom = (p: any) => {
    const B = p.row === 4 ? 34 : 12;
    return { L, T, R, B, left: COL_X[p.col] - L, top: ROW_Y[p.row] - T, width: L + PLOT_W + R, height: T + PLOT_H + B };
  };
  useEffect(() => {
    const charts: any[] = PANELS.map((p, i) => {
      const g = geom(p);
      return makePanel(panelRefs.current[i]!, p, g.L, g.T, g.R, g.B);
    });
    charts.push(
      makeBar(tempRef.current!, {
        levels: TEMP_BAR,
        step: 1,
        colorOf: (l: number) => TEMP_COLORS[l],
        ticksAt: TEMP_TICKS,
        fmt: (v: any) => String(v),
        size: 15,
        T: 10,
        B: 10,
        W: 28,
        pad: 5,
        min: 9,
        max: 30,
        show: false,
      })
    );
    charts.push(
      makeBar(biasRef.current!, {
        levels: BIAS_LEVELS.slice(1, 21),
        step: 0.5,
        colorOf: biasColor,
        ticksAt: BIAS_TICKS,
        fmt: (v: any) => (Number(v) < 0 ? "\u2212" : "") + Math.abs(Number(v)).toFixed(1),
        size: 20,
        T: 40,
        B: 40,
        W: 58,
        pad: 11,
        min: -5,
        max: 5,
        show: true,
      })
    );
    return () => charts.forEach((c) => c.destroy());
  }, []);
  return (
    <div style={{ position: "absolute", left: 0, top: 0, width: 1172, height: 1112, background: "#fff", overflow: "hidden" }}>
      {PANELS.map((p, i) => {
        const g = geom(p);
        return (
          <canvas
            key={p.title}
            ref={(el) => {
              panelRefs.current[i] = el;
            }}
            width={g.width}
            height={g.height}
            style={{ position: "absolute", left: g.left, top: g.top, width: g.width, height: g.height }}
          />
        );
      })}
      <canvas ref={tempRef} width={46} height={223} style={{ position: "absolute", left: 574, top: 5, width: 46, height: 223 }} />
      <canvas ref={biasRef} width={76} height={665} style={{ position: "absolute", left: 1093, top: 324, width: 76, height: 665 }} />
    </div>
  );
}
